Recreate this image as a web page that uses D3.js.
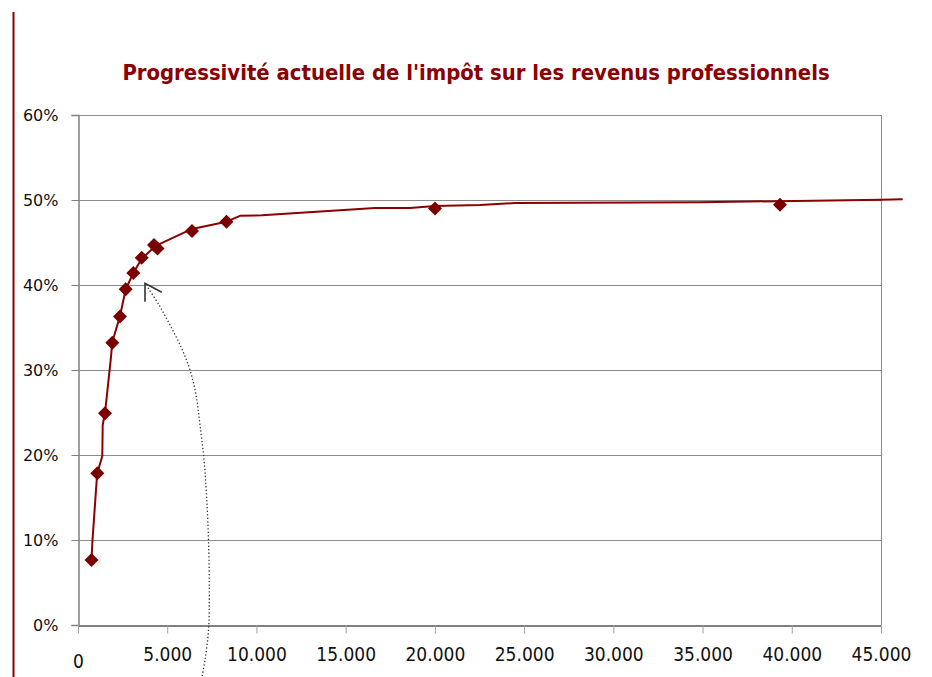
<!DOCTYPE html>
<html><head><meta charset="utf-8">
<script src="https://cdn.jsdelivr.net/npm/d3@7/dist/d3.min.js"></script>
<style>body{margin:0;background:#fff}</style>
</head><body><svg id="c" width="932" height="677"></svg>
<script>
// ---- data ----
const title = "Progressivité actuelle de l'impôt sur les revenus professionnels";
// marker series (income, tax rate %)
const markerX = [757, 1082, 1513, 1922, 2354, 2673, 3099, 3570, 4259, 4455, 6389, 8322, 20006, 39340];
const markerY = [7.65, 17.85, 24.9, 33.2, 36.3, 39.5, 41.4, 43.2, 44.7, 44.3, 46.35, 47.45, 49.0, 49.45];
// line series (income, tax rate %)
const lineX = [757, 813, 1048, 1082, 1362, 1384, 1513, 1833, 1922, 2354, 2673, 3099, 3570, 4350, 6389, 8322, 9078, 10311, 16644, 18605, 20006, 22528, 24490, 34857, 45000, 46215];
const lineY = [7.65, 10.0, 17.06, 17.88, 19.88, 23.53, 24.94, 31.18, 33.3, 36.35, 39.5, 41.4, 43.1, 44.6, 46.6, 47.45, 48.14, 48.2, 49.06, 49.06, 49.3, 49.4, 49.65, 49.73, 50.04, 50.08];
const xTicks = [0, 5000, 10000, 15000, 20000, 25000, 30000, 35000, 40000, 45000];
const yTicks = [0, 10, 20, 30, 40, 50, 60];
// annotation arrow (in data units)
const arrowCurveX = [3923, 4539, 5156, 5772, 6277, 6613, 6837, 7061, 7201, 7313, 7358, 7313, 7117, 6949];
const arrowCurveY = [39.65, 37.65, 35.29, 32.71, 30.0, 27.06, 23.53, 19.41, 15.29, 10.0, 4.12, -0.59, -4.12, -6.12];
const arrowTip = [3755, 40.2];
const arrowHead1 = [3755, 38.04];
const arrowHead2 = [4690, 39.14];

// ---- chart ----
const svg = d3.select("#c");
const x = d3.scaleLinear().domain([0, 45000]).range([78, 881]);
const y = d3.scaleLinear().domain([0, 60]).range([625, 115]);
const red = "#8b0000";
const loc = d3.formatLocale({decimal: ",", thousands: ".", grouping: [3], currency: ["", ""]});
const fmtX = loc.format(",");

// left decorative red rule
svg.append("line").attr("x1", 13.5).attr("x2", 13.5).attr("y1", 12).attr("y2", 677)
  .attr("stroke", red).attr("stroke-width", 2);

// title
const t = svg.append("text").attr("x", 476).attr("y", 80).attr("text-anchor", "middle")
  .attr("fill", red).attr("font-family", "'Liberation Sans Narrow','DejaVu Sans Condensed',sans-serif")
  .attr("font-weight", "bold").attr("font-size", 20).text(title);
const tw = t.node().getComputedTextLength();
t.attr("font-size", Math.min(24, 20 * 708 / tw));

// gridlines
svg.append("g").selectAll("line").data(yTicks.filter(d => d > 0)).join("line")
  .attr("x1", x(0)).attr("x2", x(45000))
  .attr("y1", d => Math.round(y(d)) + 0.5).attr("y2", d => Math.round(y(d)) + 0.5)
  .attr("stroke", "#8c8c8c").attr("stroke-width", 1);
// right border
svg.append("line").attr("x1", Math.round(x(45000)) + 0.5).attr("x2", Math.round(x(45000)) + 0.5)
  .attr("y1", y(60)).attr("y2", y(0)).attr("stroke", "#8c8c8c");

// y axis
const yAxis = d3.axisLeft(y).tickValues(yTicks).tickSize(7).tickPadding(13).tickFormat(d => d + "%");
const gy = svg.append("g").attr("transform", `translate(${Math.round(x(0)) + 0.5},0)`).call(yAxis);
gy.select(".domain").attr("stroke", "#808080").attr("stroke-width", 1.5);
gy.selectAll(".tick line").attr("stroke", "#808080");
gy.selectAll(".tick text").attr("font-family", "'DejaVu Sans',sans-serif").attr("font-size", 16).attr("fill", "#111");

// x axis
const xAxis = d3.axisBottom(x).tickValues(xTicks).tickSize(8).tickSizeOuter(0).tickFormat(d => fmtX(d));
const gx = svg.append("g").attr("transform", `translate(0,${Math.round(y(0)) + 0.5})`).call(xAxis);
gx.select(".domain").attr("stroke", "#808080").attr("stroke-width", 2);
gx.selectAll(".tick line").attr("stroke", "#a0a0a0");
gx.selectAll(".tick text").attr("font-family", "'DejaVu Sans Condensed','DejaVu Sans',sans-serif")
  .attr("font-size", 19).attr("fill", "#111").attr("dy", "1.3em")
  .attr("transform", d => d === 0 ? "translate(0,7)" : null);

// data line
const lineData = lineX.map((v, i) => [v, lineY[i]]);
svg.append("path").datum(lineData)
  .attr("d", d3.line().x(d => x(d[0])).y(d => y(d[1])).curve(d3.curveLinear))
  .attr("fill", "none").attr("stroke", red).attr("stroke-width", 2).attr("stroke-linejoin", "round");

// markers (diamonds)
const mData = markerX.map((v, i) => [v, markerY[i]]);
const diamond = {draw(ctx){ctx.moveTo(0,-7);ctx.lineTo(7,0);ctx.lineTo(0,7);ctx.lineTo(-7,0);ctx.closePath();}};
svg.append("g").selectAll("path").data(mData).join("path")
  .attr("transform", d => `translate(${x(d[0])},${y(d[1])})`)
  .attr("d", d3.symbol().type(diamond)())
  .attr("fill", "#7a0000");

// annotation arrow
const curveData = arrowCurveX.map((v, i) => [v, arrowCurveY[i]]);
svg.append("path").datum(curveData)
  .attr("d", d3.line().x(d => x(d[0])).y(d => y(d[1])).curve(d3.curveCatmullRom))
  .attr("fill", "none").attr("stroke", "#333").attr("stroke-width", 1.3).attr("stroke-dasharray", "1.3,2.2");
svg.append("path")
  .attr("d", `M${x(arrowHead1[0])},${y(arrowHead1[1])}L${x(arrowTip[0])},${y(arrowTip[1])}L${x(arrowHead2[0])},${y(arrowHead2[1])}`)
  .attr("fill", "none").attr("stroke", "#333").attr("stroke-width", 1.6);
</script></body></html>
